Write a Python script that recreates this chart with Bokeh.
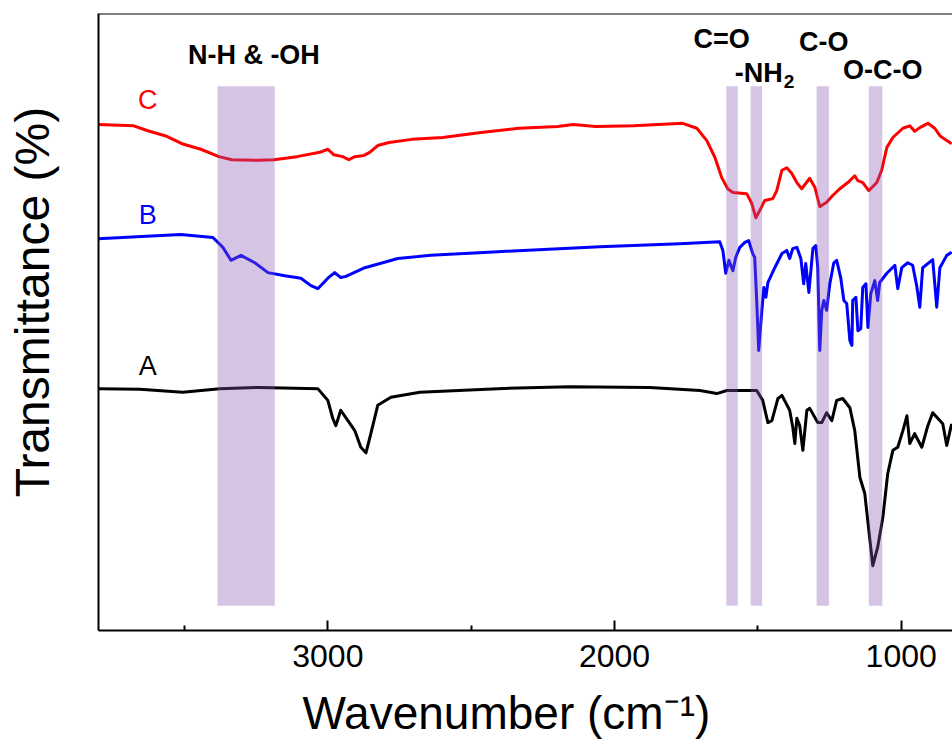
from bokeh.plotting import figure
from bokeh.models import Range1d, FixedTicker, Label, Span, ColumnDataSource
from bokeh.embed import file_html
from bokeh.resources import INLINE

# FTIR spectra: wavenumber (cm^-1) and offset transmittance (a.u.)
wn_a = [3802, 3656, 3506, 3377, 3237, 3035, 3000, 2983, 2972, 2955, 2930, 2906,
        2885, 2867, 2850, 2826, 2780, 2679, 2407, 2156, 1877, 1702, 1643, 1608,
        1504, 1483, 1465, 1451, 1430, 1416, 1389, 1378, 1371, 1364, 1354, 1343,
        1329, 1319, 1291, 1277, 1260, 1242, 1225, 1204, 1179, 1162, 1144, 1127,
        1109, 1099, 1082, 1064, 1047, 1029, 1012, 994, 980, 970, 953, 928, 907,
        890, 855, 841, 824]
t_a = [39.2, 39.1, 38.6, 39.2, 39.4, 39.2, 37.3, 34.4, 33.2, 35.7, 34.0, 32.4,
       29.7, 28.8, 31.9, 36.5, 37.8, 38.6, 39.2, 39.5, 39.4, 38.9, 38.4, 38.9,
       38.9, 37.3, 33.7, 34.0, 37.6, 38.1, 35.7, 32.9, 30.3, 34.4, 33.2, 29.2,
       35.7, 36.0, 33.7, 33.7, 35.3, 34.0, 37.3, 37.6, 36.1, 32.4, 24.8, 22.2,
       14.6, 10.5, 13.5, 18.3, 25.4, 29.2, 29.7, 32.4, 34.8, 30.3, 31.9, 29.7,
       33.2, 35.3, 33.5, 30.0, 33.5]

wn_b = [3802, 3513, 3401, 3366, 3338, 3303, 3255, 3209, 3150, 3094, 3059, 3035,
        3000, 2976, 2955, 2937, 2871, 2756, 2641, 2407, 2051, 1772, 1633, 1622,
        1612, 1601, 1587, 1577, 1563, 1545, 1532, 1518, 1511, 1504, 1497, 1486,
        1479, 1472, 1465, 1441, 1416, 1399, 1389, 1378, 1364, 1350, 1340, 1333,
        1322, 1315, 1308, 1298, 1291, 1284, 1277, 1270, 1260, 1249, 1235, 1225,
        1211, 1200, 1190, 1179, 1172, 1169, 1158, 1151, 1141, 1134, 1123, 1116,
        1106, 1092, 1082, 1075, 1050, 1022, 1012, 998, 977, 960, 946, 935, 925,
        890, 876, 865, 841, 824]
t_b = [63.5, 64.2, 63.7, 62.1, 60.0, 60.8, 59.6, 58.0, 57.5, 57.1, 55.9, 55.4,
       57.1, 58.0, 57.2, 57.4, 58.8, 60.3, 60.8, 61.4, 62.2, 62.7, 63.0, 61.6,
       57.9, 60.0, 58.3, 60.5, 62.1, 62.9, 63.2, 61.1, 60.5, 53.5, 45.4, 51.9,
       55.6, 54.0, 56.4, 58.8, 61.1, 61.6, 60.3, 61.9, 62.1, 60.3, 56.2, 59.5,
       54.8, 58.3, 61.9, 62.4, 58.8, 45.4, 51.9, 53.5, 51.9, 56.2, 59.6, 60.0,
       57.2, 53.5, 53.0, 47.0, 46.2, 53.5, 54.0, 48.6, 48.9, 55.6, 56.2, 49.1,
       54.6, 56.7, 53.5, 56.4, 57.9, 59.2, 55.4, 58.8, 59.6, 59.2, 55.9, 52.4,
       58.8, 60.1, 52.4, 58.8, 60.8, 61.3]

wn_c = [3802, 3677, 3628, 3562, 3509, 3443, 3380, 3335, 3241, 3188, 3108, 3028,
        3000, 2979, 2948, 2927, 2906, 2874, 2854, 2826, 2787, 2707, 2599, 2466,
        2334, 2198, 2145, 2065, 1933, 1762, 1713, 1678, 1650, 1626, 1605, 1587,
        1539, 1521, 1507, 1493, 1476, 1448, 1434, 1416, 1399, 1382, 1364, 1347,
        1319, 1301, 1284, 1260, 1239, 1214, 1186, 1162, 1151, 1134, 1113, 1085,
        1068, 1050, 1029, 994, 970, 953, 935, 907, 883, 865, 841, 824]
t_c = [82.0, 81.8, 81.0, 80.1, 78.9, 78.0, 76.8, 76.3, 76.2, 76.3, 76.8, 77.5,
       78.0, 77.1, 76.8, 76.3, 76.8, 77.0, 77.5, 78.6, 79.1, 79.6, 79.9, 80.7,
       81.4, 81.7, 82.0, 81.7, 81.8, 82.2, 81.4, 79.4, 76.7, 73.4, 71.6, 71.0,
       70.8, 69.2, 66.9, 68.1, 69.7, 70.0, 71.3, 74.6, 75.0, 74.1, 72.6, 71.6,
       73.3, 71.8, 68.7, 69.4, 70.5, 71.6, 72.6, 73.7, 72.9, 72.6, 71.3, 72.6,
       74.6, 78.3, 79.9, 81.4, 81.8, 80.9, 81.5, 82.2, 81.4, 80.2, 79.4, 78.9]

# Highlighted absorption regions (cm^-1)
band_names = ["N-H & -OH", "C=O", "-NH2", "C-O", "O-C-O"]
band_high = [3385, 1610, 1525, 1295, 1113]
band_low = [3185, 1570, 1485, 1252, 1066]
band_bottom = [4.0] * 5
band_top = [88.2] * 5

# Trace labels
trace_names = ["A", "B", "C"]
trace_colors = ["black", "#0000FF", "#FF0000"]
trace_label_wn = [3628, 3628, 3628]
trace_label_t = [42.9, 67.3, 85.9]

FONT = "Liberation Sans"
PAD = "\u00a0\u00a0\u00a0"

p = figure(width=952, height=744,
           x_range=Range1d(3800, 821), y_range=Range1d(0, 100),
           output_backend="svg", toolbar_location=None,
           min_border_left=98, min_border_right=0,
           min_border_top=13, min_border_bottom=114)
p.outline_line_color = None
p.grid.visible = False
p.background_fill_color = "white"
p.border_fill_color = "white"

for wn, t, col in [(wn_a, t_a, "black"), (wn_b, t_b, "#0000FF"), (wn_c, t_c, "#FF0000")]:
    p.line(wn, t, line_color=col, line_width=3, line_join="round")

bands = ColumnDataSource(dict(left=band_high, right=band_low,
                              bottom=band_bottom, top=band_top))
p.quad(left="left", right="right", bottom="bottom", top="top", source=bands,
       fill_color="#8756B2", fill_alpha=0.35, line_color=None)

# x axis
xa = p.xaxis[0]
xa.ticker = FixedTicker(ticks=[1000, 2000, 3000], minor_ticks=[1500, 2500, 3500])
xa.axis_line_width = 2
xa.major_tick_line_width = 2
xa.minor_tick_line_width = 2
xa.major_tick_in = 10
xa.major_tick_out = 0
xa.minor_tick_in = 5
xa.minor_tick_out = 0
xa.major_label_text_font = FONT
xa.major_label_text_font_size = "32px"
xa.major_label_text_color = "black"
xa.major_label_standoff = 14
xa.axis_label = "Wavenumber (cm\u207b\u00b9)" + PAD
xa.axis_label_text_font = FONT
xa.axis_label_text_font_size = "46px"
xa.axis_label_text_font_style = "normal"
xa.axis_label_text_color = "black"
xa.axis_label_standoff = 17

# y axis: line and title only
ya = p.yaxis[0]
ya.ticker = FixedTicker(ticks=[])
ya.axis_line_width = 2
ya.major_tick_line_color = None
ya.minor_tick_line_color = None
ya.major_label_text_font_size = "0px"
ya.axis_label = PAD + "Transmittance (%)"
ya.axis_label_text_font = FONT
ya.axis_label_text_font_size = "48px"
ya.axis_label_text_font_style = "normal"
ya.axis_label_text_color = "black"
ya.axis_label_standoff = 40

# top frame edge
p.add_layout(Span(location=100, dimension="width", line_color="black", line_width=2))

# trace labels
for name, col, xw, yt in zip(trace_names, trace_colors, trace_label_wn, trace_label_t):
    p.add_layout(Label(x=xw, y=yt, text=name, text_color=col, text_font=FONT,
                       text_font_size="27px", text_align="center",
                       text_baseline="middle"))

# band annotations
ann_style = dict(text_font=FONT, text_font_size="27px", text_font_style="bold",
                 text_color="black", text_align="center", text_baseline="middle")
p.add_layout(Label(x=3258, y=93.2, text=band_names[0], **ann_style))
p.add_layout(Label(x=1626, y=95.8, text=band_names[1], **ann_style))
p.add_layout(Label(x=1270, y=95.3, text=band_names[3], **ann_style))
p.add_layout(Label(x=1064, y=90.8, text=band_names[4], **ann_style))
p.add_layout(Label(x=1413, y=90.4, text="-NH", text_font=FONT, text_font_size="27px",
                   text_font_style="bold", text_color="black", text_align="right",
                   text_baseline="middle"))
p.add_layout(Label(x=1413, y=90.4, x_offset=1, y_offset=-9, text="2", text_font=FONT,
                   text_font_size="19px", text_font_style="bold", text_color="black",
                   text_align="left", text_baseline="middle"))

open("out.html", "w").write(file_html(p, INLINE))
